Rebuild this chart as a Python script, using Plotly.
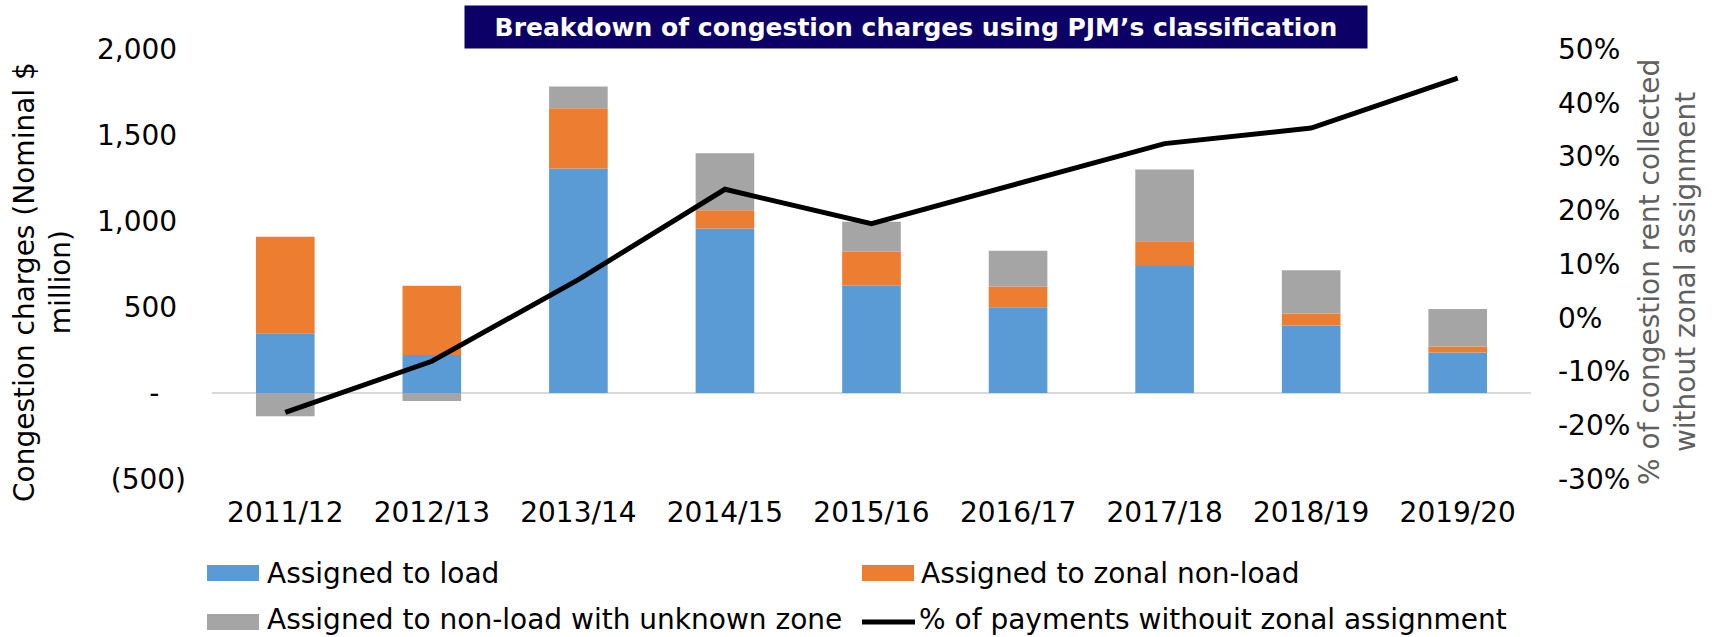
import plotly.graph_objects as go

# ---- data ----
categories = ["2011/12", "2012/13", "2013/14", "2014/15", "2015/16",
              "2016/17", "2017/18", "2018/19", "2019/20"]
assigned_load = [348, 221, 1305, 957, 623, 499, 738, 392, 235]
assigned_zonal_nonload = [561, 402, 350, 105, 198, 120, 144, 70, 35]
assigned_unknown_zone = [-135, -47, 127, 332, 175, 208, 418, 252, 219]
pct_without_zonal = [-17.6, -8.1, 7.1, 23.9, 17.5, 24.9, 32.4, 35.3, 44.6]

left_tickvals = [-500, 0, 500, 1000, 1500, 2000]
left_ticktext = ["(500)", "-\u00a0\u00a0\u00a0", "500\u00a0", "1,000\u00a0", "1,500\u00a0", "2,000\u00a0"]
right_tickvals = [-30, -20, -10, 0, 10, 20, 30, 40, 50]
right_ticktext = ["-30%", "-20%", "-10%", "0%", "10%", "20%", "30%", "40%", "50%"]

series_names = ["Assigned to load", "Assigned to zonal non-load",
                "Assigned to non-load with unknown zone",
                "% of payments withouit zonal assignment"]
colors = ["#5B9BD5", "#ED7D31", "#A5A5A5", "#000000"]

# ---- geometry ----
W, H = 1712, 637
L, R, T, B = 212, 181, 49, 158
PW, PH = W - L - R, H - T - B
FONT = "DejaVu Sans"


def px(xp):
    return (xp - L) / PW


def py(yp):
    return (H - B - yp) / PH


fig = go.Figure()
for vals, name, col in zip([assigned_load, assigned_zonal_nonload, assigned_unknown_zone],
                           series_names[:3], colors[:3]):
    fig.add_trace(go.Bar(x=categories, y=vals, name=name, marker_color=col,
                         marker_line_width=0, showlegend=False))

fig.add_trace(go.Scatter(x=categories, y=pct_without_zonal, name=series_names[3],
                         mode="lines", line=dict(color="#000000", width=5),
                         yaxis="y2", showlegend=False))

fig.update_layout(
    width=W, height=H,
    margin=dict(l=L, r=R, t=T, b=B, pad=0),
    barmode="relative", bargap=0.6,
    plot_bgcolor="white", paper_bgcolor="white",
    font=dict(family=FONT, size=28, color="#000000"),
    xaxis=dict(showgrid=False, zeroline=False, showline=False, ticks="",
               tickfont=dict(family=FONT, size=28, color="#000000"),
               ticklabelstandoff=14),
    yaxis=dict(range=[-500, 2000], tickvals=left_tickvals, ticktext=left_ticktext,
               showgrid=False, zeroline=True, zerolinecolor="#D9D9D9", zerolinewidth=2,
               showline=False, ticks="",
               tickfont=dict(family=FONT, size=28, color="#000000"),
               ticklabelstandoff=25),
    yaxis2=dict(range=[-30, 50], tickvals=right_tickvals, ticktext=right_ticktext,
                overlaying="y", side="right", showgrid=False, zeroline=False,
                showline=False, ticks="",
                tickfont=dict(family=FONT, size=28, color="#000000"),
                ticklabelstandoff=26),
    showlegend=False,
)

annotations = []
# title box
annotations.append(dict(
    text="<b>Breakdown of congestion charges using PJM’s classification</b>",
    xref="paper", yref="paper", x=px(916), y=py(27), xanchor="center", yanchor="middle",
    showarrow=False, bgcolor="#0C0066", width=900, height=40, borderpad=1,
    font=dict(family=FONT, size=25, color="white")))
# axis titles
annotations.append(dict(
    text="Congestion charges (Nominal $<br>million)",
    xref="paper", yref="paper", x=px(42), y=py(282), xanchor="center", yanchor="middle",
    textangle=-90, showarrow=False, font=dict(family=FONT, size=28, color="#000000")))
annotations.append(dict(
    text="% of congestion rent collected<br>without zonal assignment",
    xref="paper", yref="paper", x=px(1667), y=py(272), xanchor="center", yanchor="middle",
    textangle=-90, showarrow=False, font=dict(family=FONT, size=28, color="#606060")))

# custom legend
shapes = []
legend_items = [
    (207, 573, 265, "bar", colors[0], series_names[0]),
    (862, 573, 919, "bar", colors[1], series_names[1]),
    (207, 622, 265, "bar", colors[2], series_names[2]),
    (862, 622, 917, "line", colors[3], series_names[3]),
]
for sx, cy, tx, kind, col, name in legend_items:
    if kind == "bar":
        shapes.append(dict(type="rect", xref="paper", yref="paper",
                           x0=px(sx), x1=px(sx + 52), y0=py(cy - 8), y1=py(cy + 8),
                           fillcolor=col, line=dict(width=0)))
    else:
        shapes.append(dict(type="line", xref="paper", yref="paper",
                           x0=px(sx), x1=px(sx + 53), y0=py(cy), y1=py(cy),
                           line=dict(color=col, width=5)))
    annotations.append(dict(text=name, xref="paper", yref="paper", x=px(tx),
                            y=py(min(cy, 619)),
                            xanchor="left", yanchor="middle", showarrow=False,
                            font=dict(family=FONT, size=28, color="#000000")))

fig.update_layout(annotations=annotations, shapes=shapes)

fig.write_html("out.html", config={"displayModeBar": False},
               post_script="document.body.style.margin='0';")
